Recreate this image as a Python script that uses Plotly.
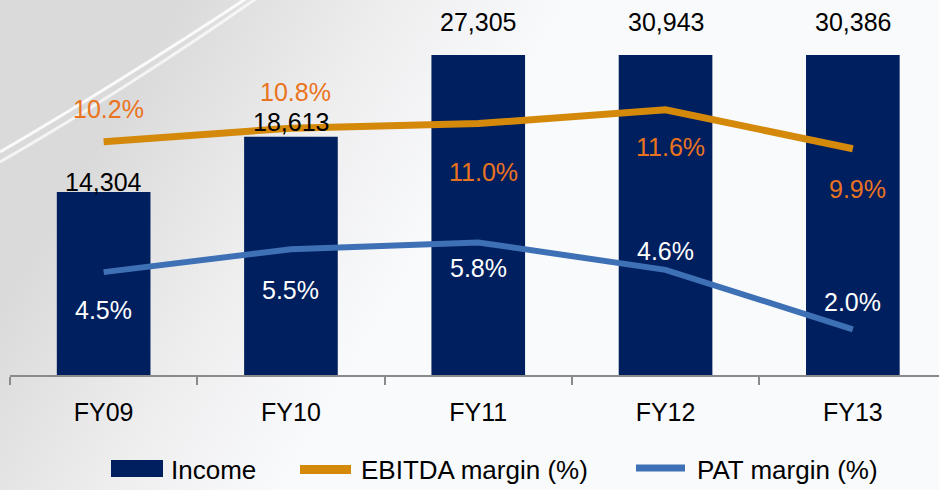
import base64
import plotly.graph_objects as go

# ---------------- data ----------------
categories = ["FY09", "FY10", "FY11", "FY12", "FY13"]
income = [14304, 18613, 27305, 30943, 30386]
ebitda_margin = [10.2, 10.8, 11.0, 11.6, 9.9]
pat_margin = [4.5, 5.5, 5.8, 4.6, 2.0]
legend_names = ["Income", "EBITDA margin (%)", "PAT margin (%)"]

# ---------------- style ----------------
NAVY = "#001f5e"
ORANGE_LINE = "#d4890a"
ORANGE_TEXT = "#ea7320"
BLUE_LINE = "#3e70b6"
FONT = "Liberation Sans, Arial, sans-serif"
FS = 25

Y1_MAX = 25000
Y2_MAX = 14

# label offsets (pixels) - styling only
income_shift = [10, 15, 33, 33, 33]
ebitda_shift = [33, 36, -48, -37, -40]
pat_shift = [-38, -41, -26, 19, 27]

W, H = 939, 490
L, T, B = 10, 55, 115
PW = W - L
PH = H - T - B


def px(x):
    return (x - L) / PW


def py(y):
    return (H - B - y) / PH


# background picture (gradient + streaks) as inline svg
svg = f'''<svg xmlns="http://www.w3.org/2000/svg" width="{W}" height="{H}" viewBox="0 0 {W} {H}" preserveAspectRatio="none">
<defs><linearGradient id="g" gradientUnits="userSpaceOnUse" x1="40" y1="240" x2="330" y2="410">
<stop offset="0" stop-color="#dadada"/><stop offset="0.55" stop-color="#eeeeef"/><stop offset="1" stop-color="#f9fafc"/></linearGradient></defs>
<rect x="0" y="0" width="{W}" height="{H}" fill="url(#g)"/>
<path d="M0,152 Q120,82 247,-2" stroke="#ffffff" stroke-width="3" fill="none" opacity="0.85"/>
<path d="M0,162 Q125,90 257,-2" stroke="#ffffff" stroke-width="3" fill="none" opacity="0.7"/>
</svg>'''
svg_uri = "data:image/svg+xml;base64," + base64.b64encode(svg.encode()).decode()

fig = go.Figure()
fig.add_trace(go.Bar(x=categories, y=income, marker=dict(color=NAVY, line=dict(width=0)),
                     width=0.5, name=legend_names[0], showlegend=False))
fig.add_trace(go.Scatter(x=categories, y=ebitda_margin, mode="lines", yaxis="y2",
                         line=dict(color=ORANGE_LINE, width=7), name=legend_names[1], showlegend=False))
fig.add_trace(go.Scatter(x=categories, y=pat_margin, mode="lines", yaxis="y2",
                         line=dict(color=BLUE_LINE, width=6), name=legend_names[2], showlegend=False))

annotations = []
for i, c in enumerate(categories):
    annotations.append(dict(x=c, y=min(income[i], Y1_MAX), xref="x", yref="y", text=f"{income[i]:,}",
                            showarrow=False, yanchor="middle", yshift=income_shift[i],
                            font=dict(family=FONT, size=FS, color="#000000")))
    annotations.append(dict(x=c, y=ebitda_margin[i], xref="x", yref="y2", text=f"{ebitda_margin[i]:.1f}%",
                            showarrow=False, yanchor="middle", yshift=ebitda_shift[i], xshift=5,
                            font=dict(family=FONT, size=FS, color=ORANGE_TEXT)))
    annotations.append(dict(x=c, y=pat_margin[i], xref="x", yref="y2", text=f"{pat_margin[i]:.1f}%",
                            showarrow=False, yanchor="middle", yshift=pat_shift[i],
                            font=dict(family=FONT, size=FS, color="#ffffff")))

# custom legend
shapes = [
    dict(type="rect", xref="paper", yref="paper", x0=px(111), x1=px(163), y0=py(477), y1=py(460),
         fillcolor=NAVY, line=dict(width=0)),
    dict(type="line", xref="paper", yref="paper", x0=px(300), x1=px(351), y0=py(469.5), y1=py(469.5),
         line=dict(color=ORANGE_LINE, width=9)),
    dict(type="line", xref="paper", yref="paper", x0=px(636), x1=px(685), y0=py(468), y1=py(468),
         line=dict(color=BLUE_LINE, width=7)),
]
for name, xpos in zip(legend_names, [169, 359, 695]):
    annotations.append(dict(x=px(xpos), y=py(470), xref="paper", yref="paper", text=name, showarrow=False,
                            xanchor="left", yanchor="middle",
                            font=dict(family=FONT, size=26, color="#000000")))

fig.update_layout(
    width=W, height=H,
    margin=dict(l=L, r=0, t=T, b=B, pad=0),
    paper_bgcolor="#f3f4f6",
    plot_bgcolor="rgba(0,0,0,0)",
    showlegend=False,
    images=[dict(source=svg_uri, xref="paper", yref="paper", x=px(0), y=py(0),
                 sizex=W / PW, sizey=H / PH, sizing="stretch", layer="below",
                 xanchor="left", yanchor="top")],
    xaxis=dict(range=[-0.5, 4.46], showline=True, linecolor="#8a8a8a", linewidth=2,
               ticks="outside", tickson="boundaries", ticklen=8, tickwidth=2, tickcolor="#8a8a8a",
               showgrid=False, zeroline=False, ticklabelstandoff=14,
               tickfont=dict(family=FONT, size=FS, color="#000000")),
    yaxis=dict(range=[0, Y1_MAX], visible=False, showgrid=False),
    yaxis2=dict(range=[0, Y2_MAX], overlaying="y", visible=False, showgrid=False),
    annotations=annotations,
    shapes=shapes,
    font=dict(family=FONT, size=FS),
)

fig.write_html(
    "out.html",
    config={"displayModeBar": False},
    post_script="document.body.style.margin='0';document.body.style.overflow='hidden';"
                "document.body.style.background='#f3f4f6';",
)
